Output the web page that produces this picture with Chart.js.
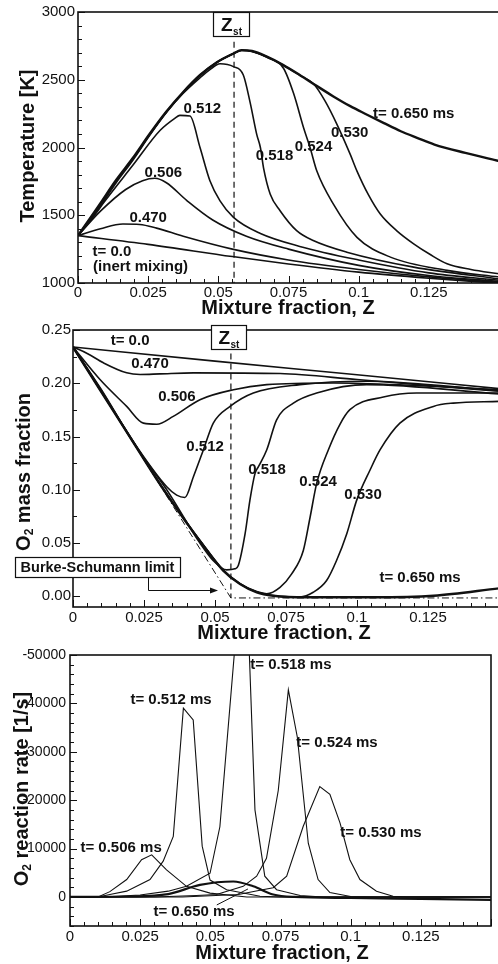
<!DOCTYPE html>
<html>
<head>
<meta charset="utf-8">
<script src="https://cdn.jsdelivr.net/npm/chart.js@4.4.1/dist/chart.umd.min.js"></script>
<style>
  html, body { margin: 0; padding: 0; background: #fff; }
  body { width: 498px; height: 964px; overflow: hidden; position: relative; }
  canvas { position: absolute; left: 0; }
</style>
</head>
<body>
<canvas id="tempChart" width="500" height="318" style="top:0"></canvas>
<canvas id="o2Chart" width="500" height="322" style="top:318px"></canvas>
<canvas id="rateChart" width="498" height="324" style="top:640px"></canvas>
<script>
const fam = "'Liberation Sans', Arial, sans-serif";
const ink = '#111';

// shared x axis
const zTicks = [0, 0.025, 0.05, 0.075, 0.1, 0.125];
const zTickLabels = ['0', '0.025', '0.05', '0.075', '0.1', '0.125'];
const zSt = 0.0556;

// --- temperature panel
const tempTicks = [1000, 1500, 2000, 2500, 3000];
const tempTickLabels = ['1000', '1500', '2000', '2500', '3000'];
const temp000 = [[0,1350],[0.025,1285],[0.055,1195],[0.075,1140],[0.1,1080],[0.125,1035],[0.15,998]];
const temp470 = [[0,1350],[0.008,1400],[0.016,1435],[0.022,1432],[0.028,1405],[0.0375,1345],[0.055,1250],[0.075,1170],[0.1,1100],[0.125,1045],[0.15,1005]];
const temp506 = [[0,1350],[0.008,1530],[0.017,1690],[0.023,1755],[0.0274,1773],[0.0315,1740],[0.0387,1610],[0.048,1465],[0.06,1345],[0.075,1250],[0.1,1130],[0.125,1055],[0.15,1012]];
const temp512 = [[0,1350],[0.005,1475],[0.0098,1610],[0.0196,1870],[0.0292,2125],[0.0345,2215],[0.0363,2237],[0.0399,2232],[0.0435,1998],[0.047,1755],[0.0506,1606],[0.0554,1484],[0.065,1365],[0.079,1270],[0.1,1170],[0.125,1075],[0.15,1020]];
const temp518 = [[0,1350],[0.004,1455],[0.0077,1560],[0.0136,1740],[0.0196,1908],[0.0255,2088],[0.0315,2258],[0.0375,2400],[0.0435,2515],[0.047,2575],[0.0506,2618],[0.0554,2597],[0.0589,2535],[0.0613,2335],[0.0637,2095],[0.065,1998],[0.0661,1850],[0.0685,1655],[0.072,1533],[0.0779,1386],[0.0838,1313],[0.0958,1227],[0.1196,1117],[0.15,1030]];
const temp524 = [[0,1350],[0.004,1462],[0.0077,1570],[0.0136,1750],[0.0196,1916],[0.0255,2094],[0.0315,2262],[0.0375,2406],[0.0435,2533],[0.0495,2628],[0.0554,2692],[0.0583,2716],[0.062,2708],[0.0673,2665],[0.0732,2585],[0.0768,2400],[0.0804,2144],[0.0827,1998],[0.0851,1826],[0.091,1582],[0.0994,1337],[0.1113,1191],[0.1315,1093],[0.15,1044]];
const temp530 = [[0,1350],[0.004,1465],[0.0077,1575],[0.0136,1755],[0.0196,1920],[0.0255,2097],[0.0315,2264],[0.0375,2408],[0.0435,2534],[0.0495,2629],[0.0554,2693],[0.0583,2718],[0.062,2711],[0.0673,2669],[0.073,2609],[0.079,2533],[0.0839,2470],[0.0881,2340],[0.0923,2169],[0.097,1949],[0.0994,1826],[0.1035,1650],[0.1077,1509],[0.1136,1385],[0.1196,1289],[0.1255,1210],[0.1315,1142],[0.14,1100],[0.15,1068]];
const temp650 = [[0,1350],[0.004,1470],[0.0077,1580],[0.0136,1760],[0.0196,1924],[0.0255,2100],[0.0315,2266],[0.0375,2410],[0.0435,2535],[0.0495,2630],[0.0554,2694],[0.0583,2719],[0.062,2712],[0.0673,2670],[0.073,2610],[0.079,2535],[0.085,2455],[0.091,2377],[0.097,2305],[0.103,2242],[0.109,2180],[0.115,2120],[0.121,2070],[0.127,2022],[0.138,1960],[0.15,1900]];

// --- O2 mass fraction panel
const o2Ticks = [0, 0.05, 0.1, 0.15, 0.2, 0.25];
const o2TickLabels = ['0.00', '0.05', '0.10', '0.15', '0.20', '0.25'];
const o2000 = [[0,0.234],[0.05,0.2208],[0.1,0.208],[0.15,0.195]];
const o2470 = [[0,0.234],[0.005,0.228],[0.0107,0.2192],[0.0189,0.2098],[0.0236,0.2082],[0.0306,0.2088],[0.0424,0.2098],[0.0729,0.2091],[0.1,0.2035],[0.125,0.198],[0.15,0.1925]];
const o2506 = [[0,0.234],[0.0095,0.2035],[0.0189,0.1783],[0.0248,0.1626],[0.0295,0.1616],[0.0353,0.1689],[0.0447,0.1846],[0.0565,0.194],[0.0682,0.1987],[0.0917,0.2003],[0.12,0.198],[0.15,0.194]];
const o2512 = [[0,0.234],[0.01,0.194],[0.0212,0.1453],[0.033,0.1028],[0.0365,0.095],[0.0394,0.0928],[0.0424,0.1123],[0.0459,0.1374],[0.0494,0.1626],[0.0553,0.1783],[0.0635,0.1909],[0.0799,0.1987],[0.1034,0.2019],[0.15,0.193]];
const o2518 = [[0,0.234],[0.01,0.1932],[0.0212,0.1445],[0.033,0.1],[0.0447,0.05],[0.0494,0.0335],[0.0541,0.0248],[0.057,0.0258],[0.0582,0.0289],[0.0606,0.0588],[0.0623,0.0903],[0.0641,0.1154],[0.0653,0.1217],[0.0682,0.1374],[0.0717,0.1657],[0.0776,0.1814],[0.0858,0.1909],[0.1034,0.1987],[0.15,0.19]];
const o2524 = [[0,0.234],[0.01,0.1922],[0.02,0.1502],[0.03,0.1082],[0.035,0.0885],[0.04,0.0695],[0.0447,0.0525],[0.0529,0.0246],[0.0588,0.012],[0.0647,0.0045],[0.0682,0.0025],[0.0729,0.0085],[0.077,0.0211],[0.0811,0.0431],[0.0835,0.0745],[0.0858,0.106],[0.0899,0.1374],[0.094,0.1615],[0.0975,0.1752],[0.1093,0.1871],[0.121,0.1909],[0.15,0.1909]];
const o2530 = [[0,0.234],[0.01,0.192],[0.02,0.15],[0.03,0.108],[0.035,0.0882],[0.04,0.0692],[0.0447,0.0522],[0.0529,0.0243],[0.0588,0.0117],[0.0647,0.004],[0.0705,0.0008],[0.0799,-0.0006],[0.0846,0.0038],[0.0893,0.0148],[0.0928,0.0336],[0.0964,0.0588],[0.0999,0.0903],[0.1046,0.1186],[0.1081,0.1374],[0.1151,0.1626],[0.1269,0.1783],[0.1339,0.1814],[0.15,0.183]];
const o2650 = [[0,0.234],[0.01,0.1918],[0.02,0.1498],[0.03,0.1078],[0.035,0.088],[0.04,0.069],[0.0447,0.052],[0.0529,0.0242],[0.0588,0.0116],[0.0647,0.0038],[0.0705,0.0006],[0.0823,-0.0009],[0.1058,-0.0009],[0.127,0.0006],[0.15,0.0075]];
const burkeSchumann = [[0,0.234],[zSt,-0.0015],[0.15,-0.0015]];

// --- O2 reaction rate panel
const rateTicks = [-50000, -40000, -30000, -20000, -10000, 0];
const rateTickLabels = ['-50000', '-40000', '-30000', '-20000', '-10000', '0'];
const rate506 = [[0,0],[0.01,0],[0.0142,-1100],[0.0202,-3600],[0.0255,-7700],[0.0291,-8700],[0.0344,-5600],[0.0415,-2200],[0.0499,-800],[0.063,0],[0.15,0]];
const rate512 = [[0,0],[0.01,0],[0.0142,-500],[0.0202,-1200],[0.0285,-3600],[0.0332,-7400],[0.0368,-12500],[0.0404,-39000],[0.0439,-36600],[0.0471,-10500],[0.0499,-3500],[0.0558,-1500],[0.0677,-150],[0.075,0],[0.15,0]];
const rate518 = [[0,0],[0.015,-100],[0.025,-400],[0.035,-1200],[0.0415,-2200],[0.0499,-4900],[0.0534,-14500],[0.0588,-52000],[0.0636,-55000],[0.0659,-18000],[0.0694,-4300],[0.0736,-1500],[0.082,-300],[0.09,0],[0.15,0]];
const rate524 = [[0,0],[0.03,0],[0.045,-300],[0.0522,-500],[0.0617,-2200],[0.0665,-4300],[0.07,-8000],[0.0742,-22000],[0.0778,-42800],[0.081,-33000],[0.0849,-11100],[0.0884,-3600],[0.0926,-900],[0.1,-100],[0.11,0],[0.15,0]];
const rate530 = [[0,0],[0.04,0],[0.06,-500],[0.0677,-1400],[0.0724,-1900],[0.0772,-4300],[0.0831,-14600],[0.089,-22800],[0.0926,-21200],[0.0962,-15300],[0.0997,-7700],[0.1033,-3600],[0.1092,-1200],[0.1151,-150],[0.12,0],[0.15,0]];
const rate650 = [[0,0],[0.02,-100],[0.035,-600],[0.0463,-2500],[0.0582,-3200],[0.0653,-2200],[0.0724,-500],[0.08,0],[0.1,200],[0.125,400],[0.15,600]];

function line(points, width, extra) {
  return Object.assign({
    data: points.map(p => ({ x: p[0], y: p[1] })),
    borderColor: ink,
    borderWidth: width,
    pointRadius: 0,
    fill: false,
    cubicInterpolationMode: 'monotone'
  }, extra || {});
}

function zAxis(height, pad) {
  return {
    type: 'linear', min: 0, max: 0.15,
    afterBuildTicks: s => { s.ticks = zTicks.map(v => ({ value: v })); },
    afterFit: s => { s.height = height; },
    grid: { display: false, drawTicks: false },
    border: { display: false },
    ticks: {
      padding: pad, color: ink, autoSkip: false, maxRotation: 0,
      font: { family: fam, size: 15 },
      callback: (v, i) => zTickLabels[i]
    }
  };
}

function valueAxis(min, max, ticks, labels, width, pad, size, reverse) {
  return {
    type: 'linear', min: min, max: max, reverse: !!reverse,
    afterBuildTicks: s => { s.ticks = ticks.map(v => ({ value: v })); },
    afterFit: s => { s.width = width; },
    grid: { display: false, drawTicks: false },
    border: { display: false },
    ticks: {
      padding: pad, color: ink, autoSkip: false,
      font: { family: fam, size: size },
      callback: (v, i) => labels[i]
    }
  };
}

function drawText(ctx, cx, cy, parts, rotate) {
  ctx.save();
  ctx.translate(cx, cy);
  if (rotate) ctx.rotate(-Math.PI / 2);
  let total = 0;
  parts.forEach(p => { ctx.font = p.font; p.w = ctx.measureText(p.text).width; total += p.w; });
  let pos = -total / 2;
  ctx.textAlign = 'left';
  ctx.textBaseline = 'middle';
  parts.forEach(p => { ctx.font = p.font; ctx.fillText(p.text, pos, p.dy || 0); pos += p.w; });
  ctx.restore();
}

const big = 'bold 20px ' + fam;
const sub = 'bold 12px ' + fam;

const frame = {
  id: 'frame',
  afterDatasetsDraw(chart, args, o) {
    const { ctx, chartArea: a } = chart;
    const x = chart.scales.x, y = chart.scales.y;
    ctx.save();
    ctx.strokeStyle = ink;
    ctx.fillStyle = ink;

    // inward tick marks
    ctx.lineWidth = 1;
    ctx.beginPath();
    for (let i = 0; i <= 30; i++) {
      const px = Math.round(x.getPixelForValue(i * 0.005)) + 0.5;
      const len = i % 5 === 0 ? 7 : 4;
      ctx.moveTo(px, a.bottom); ctx.lineTo(px, a.bottom - len);
    }
    const n = Math.round((o.yEnd - o.yStart) / o.yStep);
    for (let i = 0; i <= n; i++) {
      const py = Math.round(y.getPixelForValue(o.yStart + i * o.yStep)) + 0.5;
      const len = i % o.perMajor === 0 ? 7 : 4;
      ctx.moveTo(a.left, py); ctx.lineTo(a.left + len, py);
    }
    ctx.stroke();

    ctx.lineWidth = 1.6;
    ctx.strokeRect(a.left, a.top, a.right - a.left, a.bottom - a.top);

    // curve labels
    ctx.font = 'bold 15px ' + fam;
    ctx.textAlign = 'center';
    ctx.textBaseline = 'middle';
    o.labels.forEach(l => ctx.fillText(l[0], x.getPixelForValue(l[1]), y.getPixelForValue(l[2])));

    // leader line
    if (o.leader) {
      ctx.lineWidth = 1;
      ctx.beginPath();
      ctx.moveTo(x.getPixelForValue(o.leader[0]), y.getPixelForValue(o.leader[1]));
      ctx.lineTo(x.getPixelForValue(o.leader[2]), y.getPixelForValue(o.leader[3]));
      ctx.stroke();
    }

    // Z_st box
    if (o.zst) {
      const cx = x.getPixelForValue(o.zst.z);
      const top = Math.round(y.getPixelForValue(o.zst.top)) + 0.5;
      const bot = Math.round(y.getPixelForValue(o.zst.bottom)) + 0.5;
      const w = o.zst.w;
      const left = Math.round(cx - w / 2) + 0.5;
      ctx.fillStyle = '#fff';
      ctx.fillRect(left, top, w, bot - top);
      ctx.lineWidth = 1.2;
      ctx.strokeRect(left, top, w, bot - top);
      ctx.fillStyle = ink;
      ctx.textAlign = 'left';
      ctx.textBaseline = 'alphabetic';
      ctx.font = 'bold 19px ' + fam;
      const zw = ctx.measureText('Z').width;
      ctx.font = 'bold 10px ' + fam;
      const sw = ctx.measureText('st').width;
      const sx = cx - (zw + sw) / 2;
      ctx.font = 'bold 19px ' + fam;
      ctx.fillText('Z', sx, top + (bot - top) * 0.79);
      ctx.font = 'bold 10px ' + fam;
      ctx.fillText('st', sx + zw + 0.5, bot - 2);
    }

    // Burke-Schumann box and arrow
    if (o.bsBox) {
      const b = o.bsBox;
      ctx.fillStyle = '#fff';
      ctx.fillRect(b.left + 0.5, b.top + 0.5, b.w, b.h);
      ctx.lineWidth = 1.2;
      ctx.strokeRect(b.left + 0.5, b.top + 0.5, b.w, b.h);
      ctx.fillStyle = ink;
      ctx.font = 'bold 14.5px ' + fam;
      ctx.textAlign = 'center';
      ctx.textBaseline = 'middle';
      ctx.fillText('Burke-Schumann limit', b.left + b.w / 2, b.top + b.h / 2 + 1);
      const ar = b.arrow;
      ctx.lineWidth = 1;
      ctx.beginPath();
      ctx.moveTo(ar[0] + 0.5, b.top + b.h);
      ctx.lineTo(ar[0] + 0.5, ar[1] + 0.5);
      ctx.lineTo(ar[2] - 6, ar[1] + 0.5);
      ctx.stroke();
      ctx.beginPath();
      ctx.moveTo(ar[2], ar[1] + 0.5);
      ctx.lineTo(ar[2] - 8, ar[1] - 2.5);
      ctx.lineTo(ar[2] - 8, ar[1] + 3.5);
      ctx.closePath();
      ctx.fill();
    }
    ctx.restore();
  },
  afterDraw(chart, args, o) {
    const ctx = chart.ctx;
    ctx.save();
    ctx.fillStyle = ink;
    drawText(ctx, o.xTitle[0], o.xTitle[1], [{ text: 'Mixture fraction, Z', font: big }], false);
    drawText(ctx, o.yTitle[0], o.yTitle[1], o.yTitleParts, true);
    ctx.restore();
  }
};

new Chart(document.getElementById('tempChart'), {
  type: 'line',
  data: {
    datasets: [
      line(temp000, 1.6), line(temp470, 1.6), line(temp506, 1.6), line(temp512, 1.6),
      line(temp518, 1.6), line(temp524, 1.6), line(temp530, 1.6), line(temp650, 2.4),
      line([[zSt, 2780], [zSt, 1000]], 1.2, { borderDash: [6, 4], cubicInterpolationMode: 'default' })
    ]
  },
  options: {
    responsive: false, animation: false, events: [],
    layout: { padding: { top: 10, right: 1, left: 0, bottom: 0 } },
    scales: {
      x: zAxis(35, 1),
      y: valueAxis(1000, 3000, tempTicks, tempTickLabels, 78, 3, 15)
    },
    plugins: {
      legend: { display: false }, tooltip: { enabled: false },
      frame: {
        yStart: 1000, yEnd: 3000, yStep: 100, perMajor: 5,
        labels: [['0.512', 0.0443, 2282], ['0.506', 0.0304, 1813], ['0.470', 0.025, 1484],
                 ['t= 0.0', 0.0121, 1227], ['(inert mixing)', 0.0223, 1117], ['0.518', 0.07, 1938],
                 ['0.524', 0.0839, 2004], ['0.530', 0.0968, 2106], ['t= 0.650 ms', 0.1196, 2245]],
        zst: { z: 0.0546, top: 3000, bottom: 2824, w: 36 },
        xTitle: [288, 308],
        yTitle: [28, 146],
        yTitleParts: [{ text: 'Temperature [K]', font: big }]
      }
    }
  },
  plugins: [frame]
});

new Chart(document.getElementById('o2Chart'), {
  type: 'line',
  data: {
    datasets: [
      line(o2000, 1.6), line(o2470, 1.6), line(o2506, 1.6), line(o2512, 1.6),
      line(o2518, 1.6), line(o2524, 1.6), line(o2530, 1.6), line(o2650, 2.4),
      line([[zSt, 0.228], [zSt, -0.0015]], 1.2, { borderDash: [6, 4], cubicInterpolationMode: 'default' }),
      line(burkeSchumann, 1, { borderDash: [7, 3, 1.5, 3], cubicInterpolationMode: 'default' })
    ]
  },
  options: {
    responsive: false, animation: false, events: [],
    layout: { padding: { top: 12, right: 1, left: 0, bottom: 0 } },
    scales: {
      x: zAxis(33, 2),
      y: valueAxis(-0.01, 0.25, o2Ticks, o2TickLabels, 73, 2, 15)
    },
    plugins: {
      legend: { display: false }, tooltip: { enabled: false },
      frame: {
        yStart: 0, yEnd: 0.25, yStep: 0.025, perMajor: 2,
        labels: [['t= 0.0', 0.0201, 0.2396], ['0.470', 0.0271, 0.2179], ['0.506', 0.0366, 0.1868],
                 ['0.512', 0.0465, 0.1406], ['0.518', 0.0683, 0.1189], ['0.524', 0.0863, 0.1075],
                 ['0.530', 0.1021, 0.0953], ['t= 0.650 ms', 0.1222, 0.017]],
        zst: { z: 0.0548, top: 0.2547, bottom: 0.232, w: 35 },
        bsBox: { left: 15, top: 239, w: 165, h: 20, arrow: [148, 272, 218] },
        xTitle: [284, 315],
        yTitle: [24, 154],
        yTitleParts: [{ text: 'O', font: big }, { text: '2', font: sub, dy: 6 }, { text: ' mass fraction', font: big }]
      }
    }
  },
  plugins: [frame]
});

new Chart(document.getElementById('rateChart'), {
  type: 'line',
  data: {
    datasets: [
      line(rate506, 1.1, { tension: 0, cubicInterpolationMode: 'default' }),
      line(rate512, 1.1, { tension: 0, cubicInterpolationMode: 'default' }),
      line(rate518, 1.1, { tension: 0, cubicInterpolationMode: 'default' }),
      line(rate524, 1.1, { tension: 0, cubicInterpolationMode: 'default' }),
      line(rate530, 1.1, { tension: 0, cubicInterpolationMode: 'default' }),
      line(rate650, 2.2)
    ]
  },
  options: {
    responsive: false, animation: false, events: [],
    layout: { padding: { top: 15, right: 7, left: 0, bottom: 0 } },
    scales: {
      x: zAxis(38, 2),
      y: valueAxis(-50000, 6000, rateTicks, rateTickLabels, 70, 4, 14, true)
    },
    plugins: {
      legend: { display: false }, tooltip: { enabled: false },
      frame: {
        yStart: -50000, yEnd: 6000, yStep: 2000, perMajor: 5,
        labels: [['t= 0.518 ms', 0.0787, -47930], ['t= 0.512 ms', 0.036, -40700], ['t= 0.524 ms', 0.0951, -31820],
                 ['t= 0.530 ms', 0.1108, -13220], ['t= 0.506 ms', 0.0182, -10120], ['t= 0.650 ms', 0.0442, 3100]],
        leader: [0.0523, 1650, 0.0634, -1650],
        xTitle: [282, 313],
        yTitle: [22, 149],
        yTitleParts: [{ text: 'O', font: big }, { text: '2', font: sub, dy: 6 }, { text: ' reaction rate [1/s]', font: big }]
      }
    }
  },
  plugins: [frame]
});
</script>
</body>
</html>
